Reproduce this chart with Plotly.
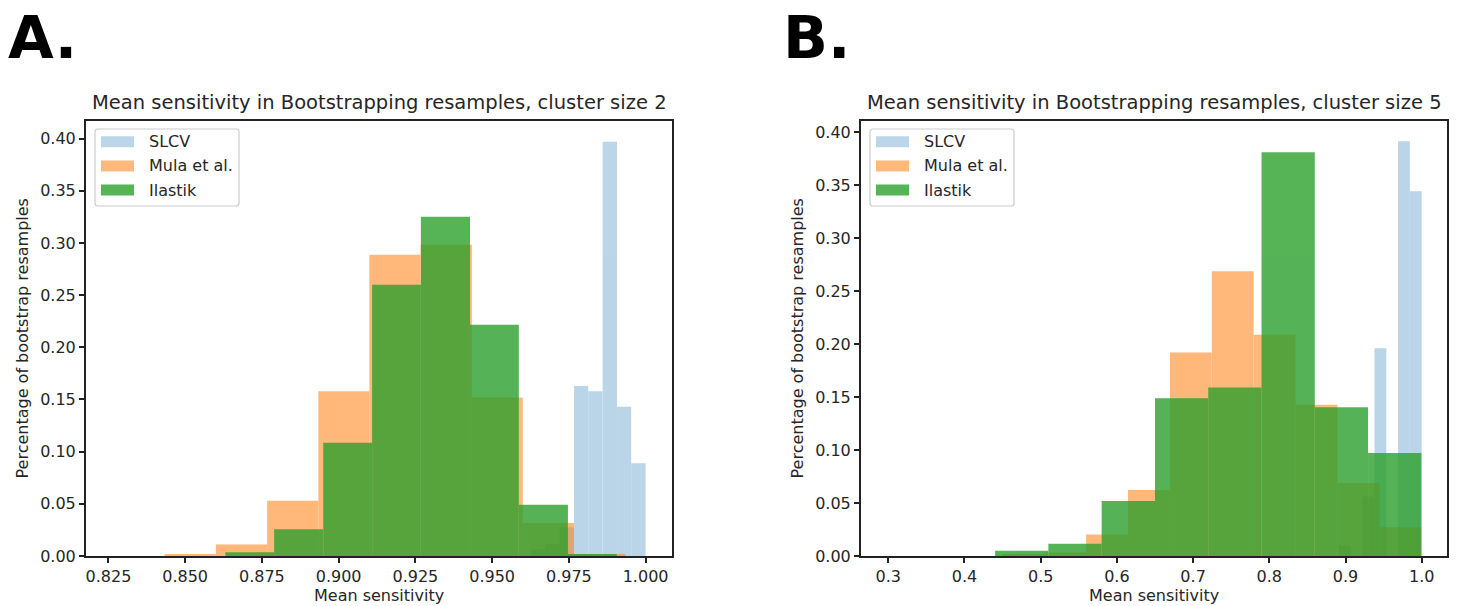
import numpy as np
import plotly.graph_objects as go

W, H = 1462, 606

# ---------------- data (bin edges and fraction of bootstrap resamples) ----------------
series_names = ["SLCV", "Mula et al.", "Ilastik"]

# Panel A: cluster size 2
slcv2_edges = [0.9534, 0.9580, 0.9627, 0.9673, 0.9720, 0.9767, 0.9813, 0.9860, 0.9907, 0.9953, 1.0000]
slcv2_heights = [0.0, 0.0, 0.0067, 0.0115, 0.0275, 0.163, 0.158, 0.397, 0.143, 0.0888]
mula2_edges = [0.8267, 0.8433, 0.8600, 0.8767, 0.8934, 0.9100, 0.9267, 0.9434, 0.9600, 0.9767, 0.9934]
mula2_heights = [0.0, 0.0015, 0.011, 0.053, 0.1578, 0.2888, 0.2984, 0.152, 0.0316, 0.002]
ilastik2_edges = [0.8312, 0.8471, 0.8631, 0.8790, 0.8950, 0.9109, 0.9268, 0.9428, 0.9587, 0.9747, 0.9906]
ilastik2_heights = [0.0, 0.0, 0.0035, 0.0256, 0.1086, 0.260, 0.3252, 0.2217, 0.0492, 0.002]

# Panel B: cluster size 5
slcv5_edges = [0.8450, 0.8605, 0.8760, 0.8915, 0.9070, 0.9225, 0.9380, 0.9535, 0.9690, 0.9845, 1.0000]
slcv5_heights = [0.0, 0.0, 0.0, 0.0097, 0.0, 0.056, 0.196, 0.0, 0.3915, 0.3443]
mula5_edges = [0.4497, 0.5047, 0.5596, 0.6146, 0.6696, 0.7245, 0.7795, 0.8344, 0.8894, 0.9444, 0.9993]
mula5_heights = [0.001, 0.0034, 0.0204, 0.0624, 0.1921, 0.2687, 0.2088, 0.1427, 0.069, 0.0271]
ilastik5_edges = [0.3004, 0.3703, 0.4402, 0.5101, 0.5800, 0.6500, 0.7199, 0.7898, 0.8597, 0.9296, 0.9995]
ilastik5_heights = [0.0, 0.0, 0.005, 0.0116, 0.052, 0.149, 0.159, 0.3811, 0.1405, 0.0973]

# tick labels
xticks_a = [0.825, 0.850, 0.875, 0.900, 0.925, 0.950, 0.975, 1.000]
xticks_b = [0.3, 0.4, 0.5, 0.6, 0.7, 0.8, 0.9, 1.0]
yticks = [0.00, 0.05, 0.10, 0.15, 0.20, 0.25, 0.30, 0.35, 0.40]

titles = ["Mean sensitivity in Bootstrapping resamples, cluster size 2",
          "Mean sensitivity in Bootstrapping resamples, cluster size 5"]
panel_letters = ["A.", "B."]
xlabel = "Mean sensitivity"
ylabel = "Percentage of bootstrap resamples"

# ---------------- styling ----------------
colors = ["rgb(31,119,180)", "rgb(255,127,14)", "rgb(44,160,44)"]
alphas = [0.3, 0.55, 0.8]
FONT = "DejaVu Sans"
TXT = "#262626"
SPINE = "#222222"


def px(x):
    return x / W


def py(y):
    return 1 - y / H


def bars(edges, heights, i, xa, ya):
    e = np.array(edges)
    return go.Bar(
        x=(e[:-1] + e[1:]) / 2, y=heights, width=np.diff(e),
        marker=dict(color=colors[i], line=dict(width=0)), opacity=alphas[i],
        xaxis=xa, yaxis=ya, name=series_names[i], showlegend=False,
        hoverinfo="x+y+name",
    )


fig = go.Figure()
panel_data = [
    [(slcv2_edges, slcv2_heights), (mula2_edges, mula2_heights), (ilastik2_edges, ilastik2_heights)],
    [(slcv5_edges, slcv5_heights), (mula5_edges, mula5_heights), (ilastik5_edges, ilastik5_heights)],
]
axis_ids = [("x", "y"), ("x2", "y2")]
for p, pdata in enumerate(panel_data):
    for i, (e, h) in enumerate(pdata):
        fig.add_trace(bars(e, h, i, *axis_ids[p]))

# plot areas in pixels
plot_left = [86, 861]
plot_right = [672, 1447]
plot_top, plot_bottom = 121, 556

common = dict(showline=True, linecolor=SPINE, linewidth=2, mirror=True, ticks="outside",
              ticklen=5, tickwidth=1.6, tickcolor=SPINE, showgrid=False, zeroline=False,
              automargin=False,
              tickfont=dict(family=FONT, size=16, color=TXT), fixedrange=True)

fig.update_layout(
    template="none",
    xaxis=dict(domain=[px(plot_left[0]), px(plot_right[0])], range=[0.8177, 1.0086], anchor="y",
               tickmode="array", tickvals=xticks_a, ticktext=[f"{v:.3f}" for v in xticks_a], **common),
    yaxis=dict(domain=[py(plot_bottom), py(plot_top)], range=[0, 0.4169], anchor="x",
               tickmode="array", tickvals=yticks, ticktext=[f"{v:.2f}" for v in yticks], **common),
    xaxis2=dict(domain=[px(plot_left[1]), px(plot_right[1])], range=[0.2642, 1.0332], anchor="y2",
                tickmode="array", tickvals=xticks_b, ticktext=[f"{v:.1f}" for v in xticks_b], **common),
    yaxis2=dict(domain=[py(plot_bottom), py(plot_top)], range=[0, 0.4106], anchor="x2",
                tickmode="array", tickvals=yticks, ticktext=[f"{v:.2f}" for v in yticks], **common),
    barmode="overlay",
    width=W, height=H, autosize=False,
    margin=dict(l=0, r=0, t=0, b=0, pad=0, autoexpand=False),
    paper_bgcolor="white", plot_bgcolor="white",
    showlegend=False,
    font=dict(family=FONT, color=TXT),
)

annotations = []
shapes = []
for p in range(2):
    cx = (plot_left[p] + plot_right[p]) / 2
    # panel letter
    annotations.append(dict(text=f"<b>{panel_letters[p]}</b>", x=px(plot_left[p] - 80), y=py(0.5),
                            xref="paper", yref="paper", xanchor="left", yanchor="top",
                            showarrow=False, font=dict(family=FONT, size=59, color="black")))
    # subplot title
    annotations.append(dict(text=titles[p], x=px(cx), y=py(116), xref="paper", yref="paper",
                            xanchor="center", yanchor="bottom", showarrow=False,
                            font=dict(family=FONT, size=19.5, color=TXT)))
    # x-axis label
    annotations.append(dict(text=xlabel, x=px(cx), y=py(607), xref="paper", yref="paper",
                            xanchor="center", yanchor="bottom", showarrow=False,
                            font=dict(family=FONT, size=16, color=TXT)))
    # y-axis label
    annotations.append(dict(text=ylabel, x=px(plot_left[p] - 64), y=py((plot_top + plot_bottom) / 2),
                            xref="paper", yref="paper", xanchor="center", yanchor="middle",
                            textangle=-90, showarrow=False,
                            font=dict(family=FONT, size=16, color=TXT)))
    # legend box (matplotlib style)
    bx0, bx1 = plot_left[p] + 9, plot_left[p] + 153
    by0, by1 = 129, 206
    r = 3
    path = (f"M {px(bx0 + r)},{py(by0)} L {px(bx1 - r)},{py(by0)} Q {px(bx1)},{py(by0)} {px(bx1)},{py(by0 + r)} "
            f"L {px(bx1)},{py(by1 - r)} Q {px(bx1)},{py(by1)} {px(bx1 - r)},{py(by1)} "
            f"L {px(bx0 + r)},{py(by1)} Q {px(bx0)},{py(by1)} {px(bx0)},{py(by1 - r)} "
            f"L {px(bx0)},{py(by0 + r)} Q {px(bx0)},{py(by0)} {px(bx0 + r)},{py(by0)} Z")
    shapes.append(dict(type="path", path=path, xref="paper", yref="paper",
                       fillcolor="rgba(255,255,255,0.8)", line=dict(color="#cccccc", width=1.2)))
    for i, name in enumerate(series_names):
        ry = 141.7 + 24.2 * i
        shapes.append(dict(type="rect", xref="paper", yref="paper",
                           x0=px(bx0 + 6), x1=px(bx0 + 39), y0=py(ry - 5.5), y1=py(ry + 5.5),
                           fillcolor=colors[i], opacity=alphas[i], line=dict(width=0)))
        annotations.append(dict(text=name, x=px(bx0 + 52), y=py(ry), xref="paper", yref="paper",
                                xanchor="left", yanchor="middle", showarrow=False,
                                font=dict(family=FONT, size=16, color=TXT)))

fig.update_layout(annotations=annotations, shapes=shapes)

# remove the browser's default 8px page margin so the figure fills the window exactly
fig.write_html("out.html", post_script="document.body.style.margin='0';",
               config=dict(displayModeBar=False))
